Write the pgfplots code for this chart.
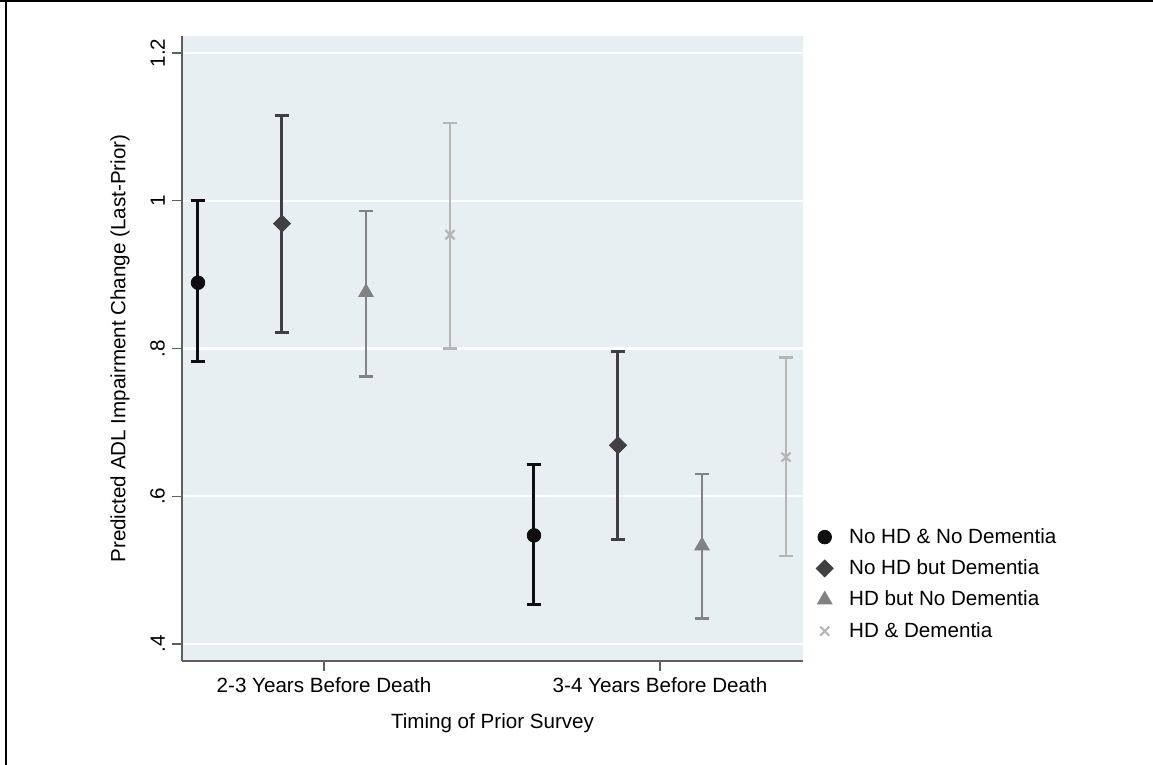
\documentclass[border=0pt]{standalone}
\usepackage{fontspec}
\setmainfont{Liberation Sans}
\usepackage{pgfplots}
\usepackage{pgfplotstable}
\pgfplotsset{compat=1.18}
\definecolor{bg}{RGB}{232,239,242}
\definecolor{c1}{RGB}{15,15,15}
\definecolor{c2}{RGB}{64,64,64}
\definecolor{c3}{RGB}{130,130,130}
\definecolor{c4}{RGB}{182,182,182}
\definecolor{axc}{RGB}{95,95,95}
% x = category position (0 = 2-3 years, 1 = 3-4 years) plus offset; y = estimate; lo/hi = CI
\pgfplotstableread{
x      y      lo     hi
-0.375 0.889  0.782  1.000
 0.625 0.547  0.454  0.643
}\tA
\pgfplotstableread{
x      y      lo     hi
-0.125 0.969  0.822  1.116
 0.875 0.669  0.541  0.796
}\tB
\pgfplotstableread{
x      y      lo     hi
 0.125 0.876  0.762  0.986
 1.125 0.533  0.435  0.630
}\tC
\pgfplotstableread{
x      y      lo     hi
 0.375 0.954  0.800  1.105
 1.375 0.653  0.519  0.788
}\tD
\begin{document}
\begin{tikzpicture}[font=\fontsize{10.3pt}{12.4pt}\selectfont]
\useasboundingbox (0,0) rectangle (576.5pt,382.5pt);
\draw[line width=1pt] (0,382pt) -- (576.5pt,382pt);
\draw[line width=1.2pt] (3pt,0) -- (3pt,382.5pt);
\begin{axis}[
  at={(91pt,52pt)}, anchor=south west,
  scale only axis, width=310.5pt, height=312.5pt,
  xmin=-0.4226, xmax=1.4256, ymin=0.377, ymax=1.223,
  axis background/.style={fill=bg},
  axis x line*=bottom, axis y line*=left,
  axis line style={-, draw=axc, line width=1pt},
  xtick={0,1}, xticklabels={2-3 Years Before Death, 3-4 Years Before Death},
  ytick={0.4,0.6,0.8,1,1.2}, yticklabels={.4,.6,.8,1,1.2},
  tick align=outside, major tick length=5pt,
  tick style={draw=axc, line width=0.7pt},
  ymajorgrids, grid style={white, line width=1.1pt},
  yticklabel style={rotate=90, anchor=south},
  ylabel={Predicted ADL Impairment Change (Last-Prior)},
  ylabel style={at={(axis description cs:-0.0998,0.5)}, anchor=center, rotate=0},
  xlabel={Timing of Prior Survey},
  xlabel style={at={(axis description cs:0.5,-0.0992)}, anchor=center},
  legend style={draw=none, fill=none, at={(1.011,0.123)}, anchor=west,
    legend cell align=left, row sep=2.7pt,
    /tikz/every odd column/.append style={column sep=6pt}},
  error bars/y dir=both, error bars/y explicit,
]
\addplot[only marks, mark=*, c1, mark size=3.4pt,
  error bars/error bar style={line width=1.5pt, c1},
  error bars/error mark options={rotate=90, mark size=3.6pt, line width=1.5pt, c1}]
  table[x=x, y=y, y error plus expr=\thisrow{hi}-\thisrow{y}, y error minus expr=\thisrow{y}-\thisrow{lo}] {\tA};
\addlegendentry{No HD \& No Dementia}
\addplot[only marks, mark=square*, mark options={rotate=45}, c2, mark size=3pt,
  error bars/error bar style={line width=1.5pt, c2},
  error bars/error mark options={rotate=90, mark size=3.6pt, line width=1.5pt, c2}]
  table[x=x, y=y, y error plus expr=\thisrow{hi}-\thisrow{y}, y error minus expr=\thisrow{y}-\thisrow{lo}] {\tB};
\addlegendentry{No HD but Dementia}
\addplot[only marks, mark=triangle*, c3, mark size=4.2pt,
  error bars/error bar style={line width=1.4pt, c3},
  error bars/error mark options={rotate=90, mark size=3.6pt, line width=1.4pt, c3}]
  table[x=x, y=y, y error plus expr=\thisrow{hi}-\thisrow{y}, y error minus expr=\thisrow{y}-\thisrow{lo}] {\tC};
\addlegendentry{HD but No Dementia}
\addplot[only marks, mark=x, c4, mark size=3.2pt, mark options={line width=1.1pt},
  error bars/error bar style={line width=1.2pt, c4},
  error bars/error mark options={rotate=90, mark size=3.6pt, line width=1.2pt, c4}]
  table[x=x, y=y, y error plus expr=\thisrow{hi}-\thisrow{y}, y error minus expr=\thisrow{y}-\thisrow{lo}] {\tD};
\addlegendentry{HD \& Dementia}
\end{axis}
\end{tikzpicture}
\end{document}
